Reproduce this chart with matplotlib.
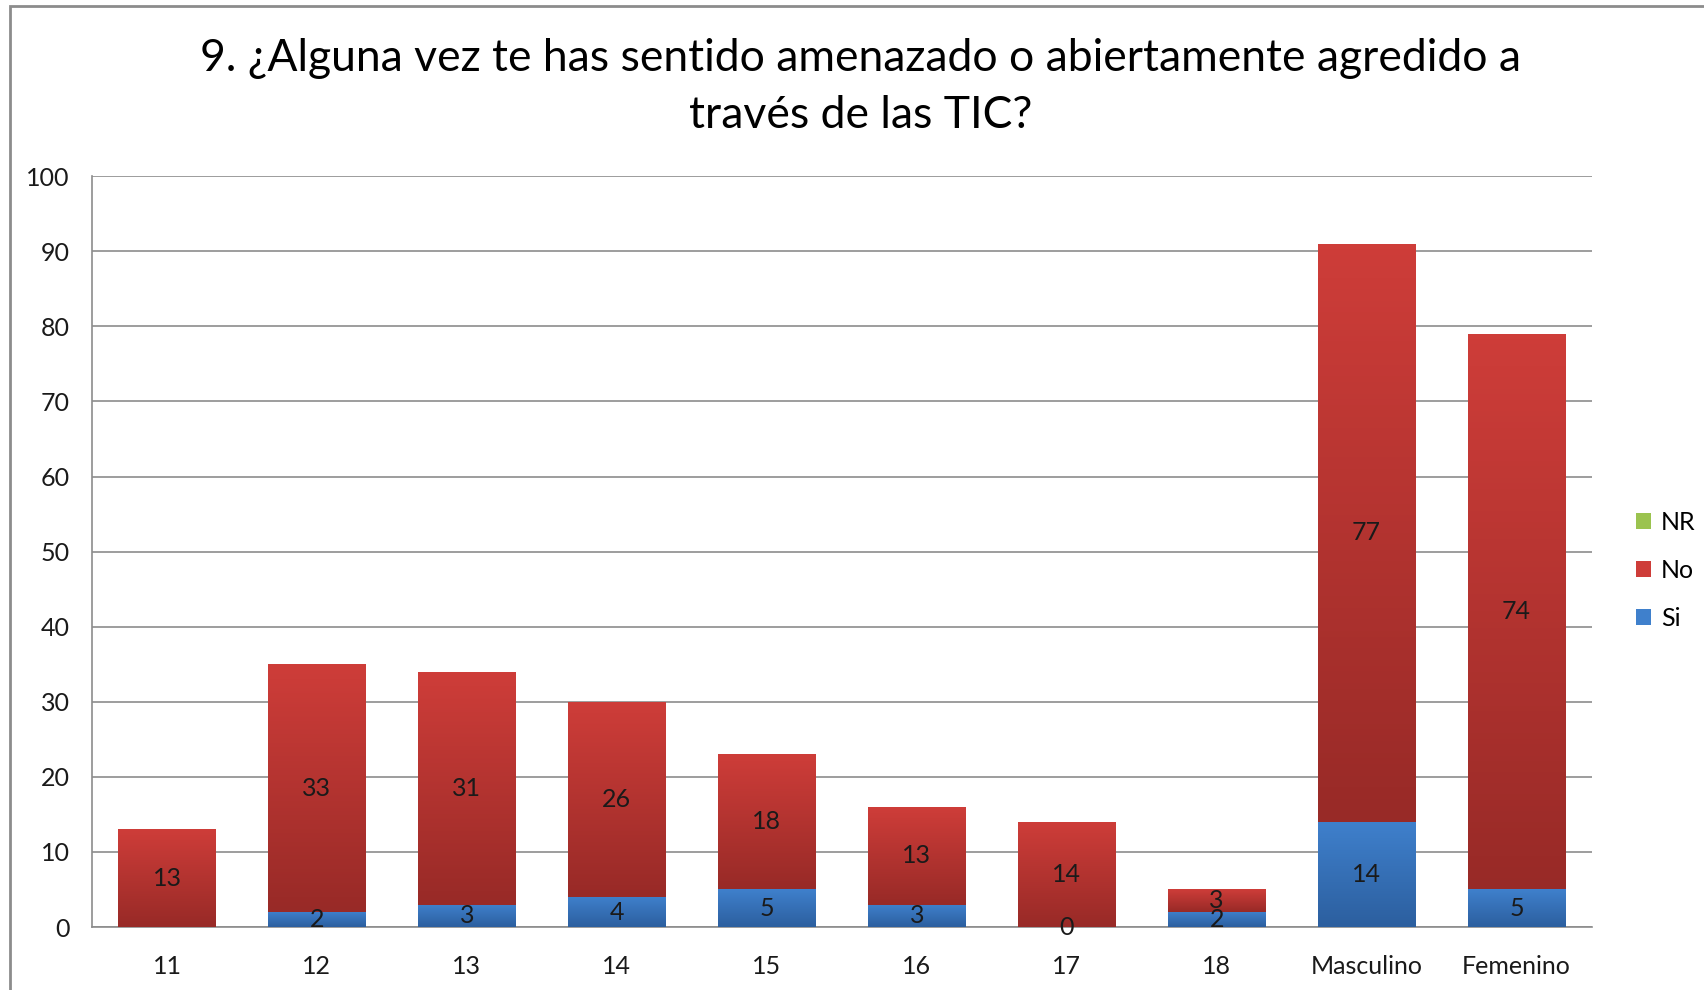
import numpy as np
import matplotlib.pyplot as plt
from matplotlib.patches import Rectangle
from matplotlib.colors import LinearSegmentedColormap

plt.rcParams['font.family'] = ['Lato', 'DejaVu Sans']

categories = ["11", "12", "13", "14", "15", "16", "17", "18", "Masculino", "Femenino"]
si = [np.nan, 2, 3, 4, 5, 3, 0, 2, 14, 5]
no = [13, 33, 31, 26, 18, 13, 14, 3, 77, 74]
nr = [0, 0, 0, 0, 0, 0, 0, 0, 0, 0]

title = "9. ¿Alguna vez te has sentido amenazado o abiertamente agredido a\ntravés de las TIC?"

# top colour, bottom colour of each series gradient
grad = {
    "Si": ("#3f80cc", "#2c5f9f"),
    "No": ("#ce3d39", "#982a27"),
    "NR": ("#9bc34f", "#77a136"),
}

fig = plt.figure(figsize=(17.04, 9.9), dpi=100)
ax = fig.add_axes([0.054, 0.0636, 0.88, 0.7584])

x = np.arange(len(categories))
w = 0.65


def gradient_bars(bottoms, heights, key):
    cmap = LinearSegmentedColormap.from_list(key, [grad[key][1], grad[key][0]])
    bars = ax.bar(x, heights, w, bottom=bottoms, color=grad[key][0], label=key, zorder=2)
    for b in bars:
        h = b.get_height()
        if not np.isfinite(h) or h <= 0:
            continue
        x0, y0 = b.get_x(), b.get_y()
        img = ax.imshow(np.linspace(0, 1, 100).reshape(-1, 1), cmap=cmap, origin="lower",
                        extent=(x0, x0 + b.get_width(), y0, y0 + h), aspect="auto", zorder=3)
        img.set_clip_path(b)
    return bars


si_arr = np.array(si, dtype=float)
no_arr = np.array(no, dtype=float)
base_no = np.nan_to_num(si_arr)

gradient_bars(np.zeros(len(x)), si_arr, "Si")
gradient_bars(base_no, no_arr, "No")
gradient_bars(base_no + no_arr, np.array(nr, dtype=float), "NR")

# data labels (the 3 and 2 of age 18 overlap in the original too)
for i in range(len(x)):
    if np.isfinite(si_arr[i]):
        ax.text(x[i], si_arr[i] / 2, f"{int(si_arr[i])}", ha="center", va="center",
                fontsize=18, color="#1a1a1a", zorder=5)
    ax.text(x[i], base_no[i] + no_arr[i] / 2, f"{int(no_arr[i])}", ha="center", va="center",
            fontsize=18, color="#1a1a1a", zorder=5)

ax.set_xlim(-0.5, len(x) - 0.5)
ax.set_ylim(0, 100)
ax.set_yticks(range(0, 101, 10))
ax.set_xticks(x)
ax.set_xticklabels(categories)
ax.tick_params(axis="both", length=0, labelsize=18, colors="#1a1a1a")
ax.tick_params(axis="y", pad=16)
ax.tick_params(axis="x", pad=20)
ax.grid(axis="y", color="#8c8c8c", linewidth=1.2, zorder=0)
ax.set_axisbelow(True)
for s in ["top", "right"]:
    ax.spines[s].set_visible(False)
for s in ["left", "bottom"]:
    ax.spines[s].set_color("#8c8c8c")
    ax.spines[s].set_linewidth(1.2)

handles, labels = ax.get_legend_handles_labels()
leg = fig.legend(handles[::-1], labels[::-1], loc="center left", bbox_to_anchor=(0.947, 0.424),
                 frameon=False, fontsize=18, handlelength=0.6, handleheight=0.6,
                 handletextpad=0.4, labelspacing=1.0)

fig.text(0.505, 0.912, title, ha="center", va="center", fontsize=32,
         linespacing=1.5, color="#000000")

# outer chart frame
fig.add_artist(Rectangle((0.006, -0.02), 1.1, 1.014, transform=fig.transFigure,
                         fill=False, edgecolor="#8c8c8c", linewidth=2))

fig.savefig("out.png", dpi=100)
